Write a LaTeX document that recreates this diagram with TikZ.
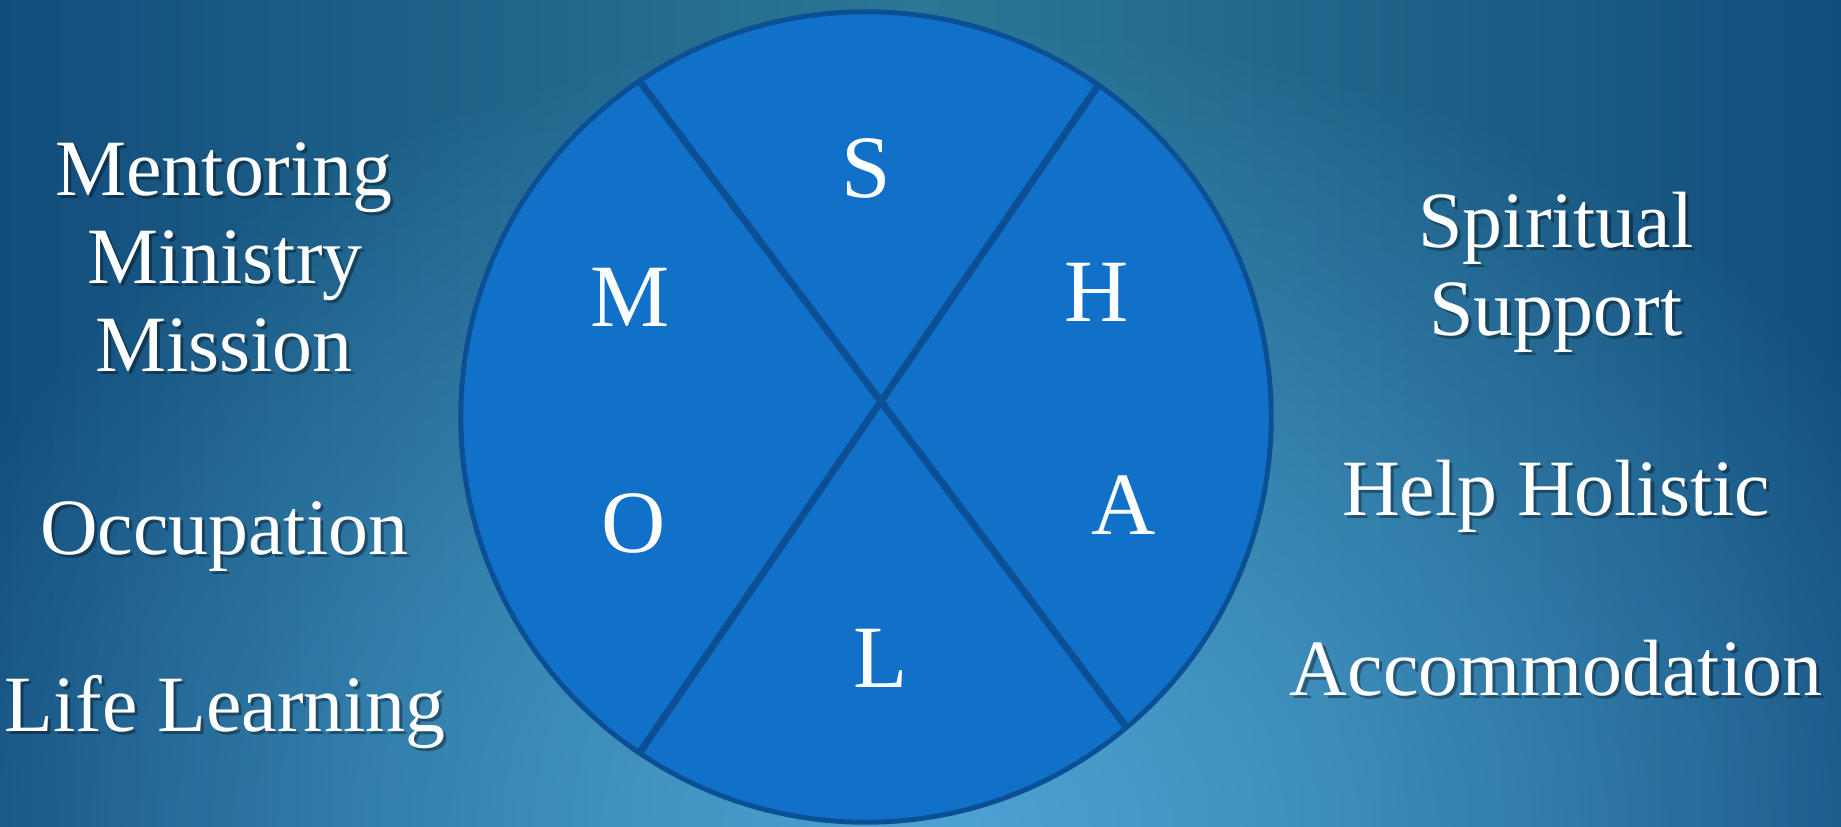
\documentclass[tikz,border=0pt]{standalone}
\usepackage{fontspec}
\setmainfont{Liberation Serif}
\usepackage{xcolor}
\usetikzlibrary{fadings}

\definecolor{bgedge}{HTML}{134D7C}
\definecolor{bgmid}{HTML}{2A7896}
\definecolor{bglight}{HTML}{4DA2D4}
\definecolor{discfill}{HTML}{1170C8}
\definecolor{discline}{HTML}{0B4F94}

\tikzfading[name=glowfade, inner color=transparent!0, outer color=transparent!100]

% label with a soft drop shadow
\newcommand{\shadowed}[3]{%
  \node[word, text=black, opacity=0.35, xshift=0.9pt, yshift=-0.9pt] (#1-sh) at (#2) {#3};
  \node[word] (#1) at (#2) {#3};}

\begin{document}
\begin{tikzpicture}[x=0.01cm, y=-0.01cm,
  word/.style={text=white, anchor=base, inner sep=0pt,
    font=\fontsize{22.7}{26}\selectfont},
  letter/.style={text=white, anchor=base, inner sep=0pt,
    font=\fontsize{25.3}{30}\selectfont},
  cross/.style={draw=discline, line width=2pt}]
  \useasboundingbox (0,0) rectangle (1841,827);

  % background
  \begin{scope}
    \clip (0,0) rectangle (1841,827);
    \shade[left color=bgedge, right color=bgedge, middle color=bgmid] (0,0) rectangle (1841,827);
    \fill[bglight, path fading=glowfade, fit fading=true] (-150,20) rectangle (2050,1640);
  \end{scope}

  % the wheel
  \node[circle, draw=discline, fill=discfill, line width=1.4pt,
    minimum size=8.1cm, inner sep=0pt, outer sep=0pt] (disc) at (866,417) {};
  \draw[cross] (disc.124.6) -- (disc.-50.9);
  \draw[cross] (disc.55.8) -- (disc.236.1);

  \node[letter] (s) at (866,197) {S};
  \node[letter] (m) at (630,326) {M};
  \node[letter] (h) at (1097,321) {H};
  \node[letter] (o) at (634,552) {O};
  \node[letter] (a) at (1124,534) {A};
  \node[letter] (l) at (881,687) {L};

  % left side
  \shadowed{mentoring}{224,195}{Mentoring}
  \shadowed{ministry}{225,283}{Ministry}
  \shadowed{mission}{224,371}{Mission}
  \shadowed{occupation}{224,554}{Occupation}
  \shadowed{life}{225,731}{Life Learning}

  % right side
  \shadowed{spiritual}{1556,247}{Spiritual}
  \shadowed{support}{1556,335}{Support}
  \shadowed{help}{1556,515}{Help Holistic}
  \shadowed{accom}{1556,695}{Accommodation}
\end{tikzpicture}
\end{document}
